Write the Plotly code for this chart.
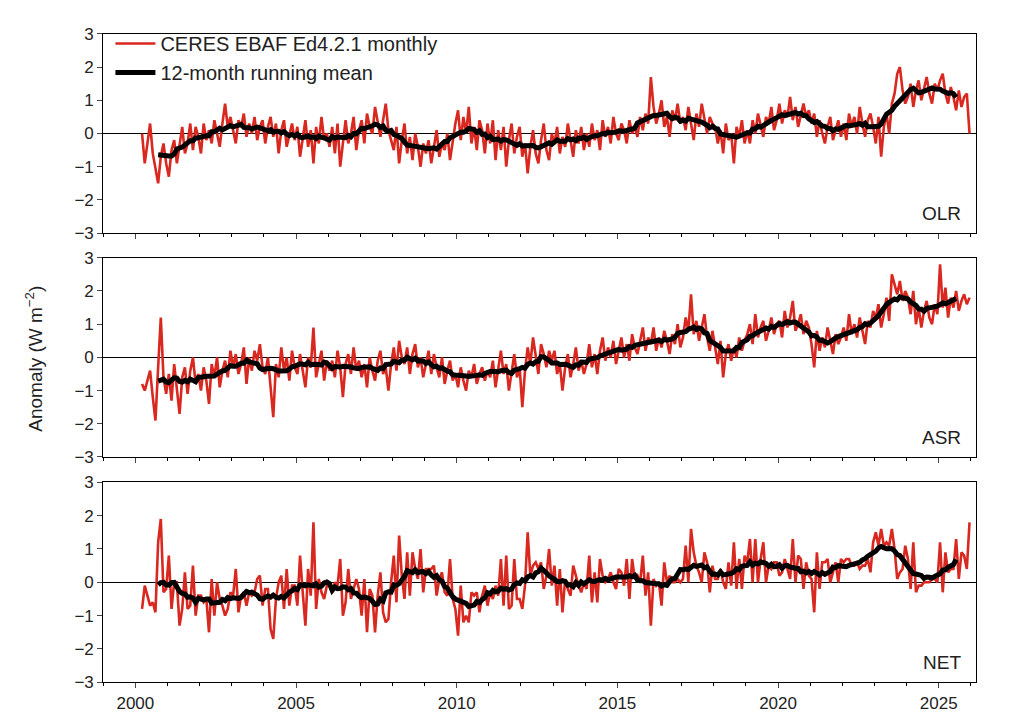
import numpy as np
import pandas as pd
import plotly.graph_objects as go
from plotly.subplots import make_subplots

start_year, start_month = 2000, 3  # March 2000

olr = [
 0.0,-0.9,-0.3,0.3,-0.6,-1.0,-1.5,-0.7,-0.3,-0.9,
 -1.3,-0.5,-0.2,-0.9,-0.4,0.2,-0.6,-0.3,0.3,-0.5,0.2,-0.1,
 -0.6,0.3,-0.2,0.1,-0.3,0.4,0.0,-0.4,0.3,0.9,0.2,0.5,
 0.1,-0.3,0.4,0.2,0.6,-0.1,0.3,0.0,0.5,-0.2,0.2,0.4,
 -0.3,0.2,0.5,-0.1,0.3,-0.6,0.1,0.4,-0.4,0.0,0.3,-0.2,
 0.2,-0.7,-0.1,0.4,-0.4,0.1,-0.9,0.2,-0.3,0.5,-0.2,0.0,
 -0.4,0.2,-0.6,0.3,-1.0,-0.2,0.4,-0.3,0.0,0.5,-0.5,0.1,
 0.4,-0.3,0.6,0.2,0.0,0.8,0.3,-0.1,0.4,0.9,0.1,-0.2,
 -0.5,0.2,-0.9,-0.2,0.3,-0.6,-0.1,-0.8,0.0,-0.4,-1.0,-0.3,
 -0.6,-0.2,-0.9,-0.4,0.1,-0.7,-0.3,-0.5,0.0,-0.8,-0.2,0.3,
 0.7,-0.2,0.5,0.0,0.8,-0.3,0.2,-0.5,0.4,0.1,-0.6,0.3,
 -0.3,0.4,-0.8,0.1,-0.5,0.2,-1.0,-0.2,0.3,-0.6,-0.1,0.2,
 -0.7,-0.3,-1.2,-0.4,0.1,-0.6,-0.9,-0.2,0.3,-0.5,-0.8,0.0,
 -0.3,0.2,-0.6,-0.1,-0.4,0.3,-0.2,-0.7,0.1,-0.3,0.2,-0.5,
 0.0,-0.4,0.3,-0.2,0.1,-0.5,0.4,-0.1,0.2,-0.3,0.5,0.0,
 -0.2,0.3,0.1,-0.3,0.4,0.0,0.2,-0.1,0.5,0.1,0.6,0.3,
 1.7,0.8,0.3,0.6,1.0,0.2,0.5,-0.1,0.7,0.4,0.9,0.3,
 0.5,0.1,0.8,0.3,-0.2,0.6,0.2,0.9,0.4,0.0,0.5,0.3,
 0.2,-0.3,0.1,-0.6,0.3,-0.2,0.0,-0.9,0.2,-0.1,0.4,-0.3,
 0.1,-0.3,0.4,0.0,0.6,0.2,-0.1,0.5,0.3,0.8,0.1,0.4,
 0.9,0.3,0.7,0.5,1.1,0.4,0.8,0.2,0.6,0.9,0.5,0.7,
 0.3,0.6,-0.1,0.4,0.0,-0.3,0.2,0.5,-0.2,0.1,0.4,-0.1,
 0.3,-0.2,0.6,0.2,0.5,0.0,0.8,0.3,-0.1,0.4,0.6,0.2,
 -0.3,0.5,-0.7,0.2,0.6,0.0,0.9,1.2,1.8,2.0,1.3,0.9,
 1.1,1.5,0.8,1.3,1.6,1.0,1.4,1.7,1.2,0.9,1.5,1.3,
 1.6,1.8,1.2,0.9,1.4,1.1,0.7,1.3,0.8,1.1,1.2,0.0,
]

asr = [
 -0.8,-1.0,-0.7,-0.4,-1.2,-1.9,-0.3,1.2,-0.6,-1.1,
 -0.5,-1.3,-0.2,-0.9,-1.7,-0.6,-0.3,-1.1,-0.4,0.0,-0.8,-0.5,
 -1.0,-0.3,-0.7,-1.4,-0.2,-0.6,0.0,-0.9,-0.4,-0.1,-0.6,0.2,
 -0.3,0.1,-0.5,-0.2,0.3,-0.8,0.0,-0.4,0.2,-0.1,0.4,-0.3,
 -0.5,0.0,-0.9,-1.8,-0.2,-0.6,0.3,-0.4,0.0,-0.7,0.2,-0.3,
 -0.5,0.1,-0.4,-0.9,0.0,-0.3,0.9,-0.6,-0.2,0.2,-0.7,-0.1,
 -0.4,-0.1,-0.6,0.2,-0.3,-1.2,-0.2,0.1,-0.5,0.3,-0.4,-0.1,
 -0.6,-0.2,-0.9,0.0,-0.4,-0.7,-0.1,0.2,-0.5,-0.3,-1.0,-0.2,
 0.3,-0.4,0.5,0.0,-0.2,0.3,-0.5,0.1,0.4,-0.3,0.0,-0.6,
 -0.2,0.2,-0.5,0.1,-0.3,-0.6,0.0,-0.8,-0.4,-0.1,-0.7,-0.5,
 -0.9,-0.3,-0.7,-1.0,-0.4,-0.6,-0.2,-0.8,-0.5,-0.3,-0.7,-0.4,
 -0.6,-0.1,-0.9,-0.3,0.2,-0.5,-0.2,-1.0,-0.4,0.1,-0.6,-0.3,
 -1.5,-0.4,0.3,-0.2,0.6,0.0,-0.5,0.4,0.1,-0.3,0.2,-0.1,
 0.2,-0.5,-0.2,-1.0,-0.3,0.1,-0.6,-0.2,0.3,-0.4,-0.1,-0.5,
 -0.2,0.4,-0.3,0.1,-0.5,0.2,0.6,-0.1,0.3,0.0,0.5,-0.2,
 0.2,0.6,0.0,0.4,-0.1,0.7,0.3,0.1,0.5,0.9,0.2,0.6,
 0.4,0.9,0.2,0.6,0.3,0.8,0.5,0.1,0.7,0.4,1.0,0.3,
 0.6,1.2,0.8,1.9,0.7,1.1,0.5,0.9,1.3,0.6,0.2,0.8,
 0.3,-0.2,0.5,-0.6,0.1,0.4,-0.1,0.3,0.0,0.6,0.2,0.5,
 0.7,1.0,0.4,1.3,0.6,0.9,1.1,0.5,0.8,1.2,0.7,1.0,
 1.1,0.6,1.4,0.9,1.2,1.7,0.8,1.0,1.3,0.7,1.1,0.9,
 0.4,-0.3,0.8,0.2,0.6,0.3,0.9,0.5,0.1,0.7,0.4,0.6,
 0.9,0.5,1.3,0.7,1.0,0.6,1.2,0.8,0.4,1.1,0.9,1.4,
 1.2,1.6,0.9,1.3,1.8,1.1,2.5,2.2,1.9,2.3,1.7,2.0,
 1.8,1.3,2.0,1.0,1.5,0.9,1.4,1.7,1.2,1.0,1.6,1.3,
 2.8,1.5,2.1,1.2,1.8,1.5,2.0,1.4,1.7,1.9,1.6,1.8,
]

panel_names = ["OLR", "ASR", "NET"]
y_ticks = [-3, -2, -1, 0, 1, 2, 3]
x_ticks = [2000, 2005, 2010, 2015, 2020, 2025]

n = len(olr)
t = np.array([start_year + (start_month - 1 + i) / 12 + 1 / 24 for i in range(n)])
olr_s = pd.Series(olr)
asr_s = pd.Series(asr)
net_s = asr_s - olr_s
series = [olr_s, asr_s, net_s]

RED = "#d8281f"
fig = make_subplots(rows=3, cols=1, shared_xaxes=True)
domains = [[0.693, 0.976], [0.375, 0.658], [0.055, 0.339]]
for i, s in enumerate(series):
    r = i + 1
    rm = s.rolling(12, center=True).mean()
    fig.add_trace(go.Scatter(x=t, y=s, mode="lines", line=dict(color=RED, width=2.6),
                             name="CERES EBAF Ed4.2.1 monthly", showlegend=(i == 0)), row=r, col=1)
    fig.add_trace(go.Scatter(x=t, y=rm, mode="lines", line=dict(color="black", width=5),
                             name="12-month running mean", showlegend=(i == 0)), row=r, col=1)
    yax = "yaxis" if i == 0 else f"yaxis{r}"
    fig.layout[yax].update(domain=domains[i], range=[-3, 3], tickvals=y_ticks,
                           ticks="outside", ticklen=5, showgrid=False, zeroline=True,
                           zerolinecolor="black", zerolinewidth=1.2,
                           showline=True, linecolor="black", linewidth=1, mirror=True)
    xax = "xaxis" if i == 0 else f"xaxis{r}"
    fig.layout[xax].update(range=[1999.0, 2026.15], tickvals=x_ticks, ticks="outside",
                           ticklen=5, showgrid=False, showline=True, linecolor="black",
                           linewidth=1, mirror=True, domain=[0.093, 0.945],
                           minor=dict(dtick=1, ticks="outside", ticklen=3, tickcolor="black"),
                           showticklabels=(i == 2))
    fig.add_annotation(text=panel_names[i], xref=f"x{r} domain" if r > 1 else "x domain",
                       yref=f"y{r} domain" if r > 1 else "y domain",
                       x=0.985, y=0.1, xanchor="right", yanchor="middle",
                       showarrow=False, font=dict(size=19, color="#222"))

fig.add_annotation(text="Anomaly (W m<sup>−2</sup>)", xref="paper", yref="paper",
                   x=0.012, y=0.515, textangle=-90, showarrow=False,
                   font=dict(size=19, color="#222"))

fig.update_layout(width=1024, height=723, margin=dict(l=0, r=0, t=0, b=0),
                  plot_bgcolor="white", paper_bgcolor="white",
                  font=dict(family="Liberation Sans, Arial", size=17, color="#222"),
                  legend=dict(x=0.1, y=0.99, xanchor="left", yanchor="top",
                              bgcolor="rgba(0,0,0,0)", font=dict(size=20),
                              tracegroupgap=0, itemwidth=40))
fig.write_html("out.html")
